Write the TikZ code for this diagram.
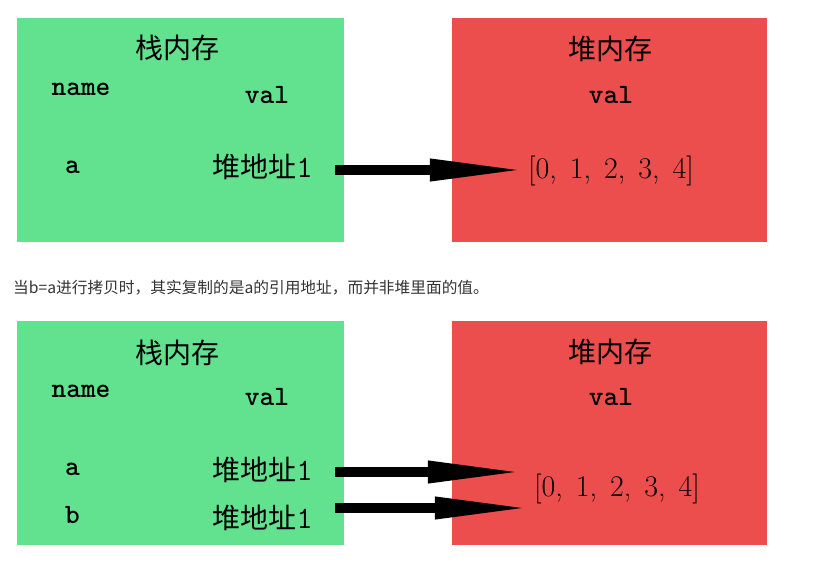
\documentclass[tikz,border=0pt]{standalone}
\usepackage{fontspec}
\newfontfamily\cjk{Noto Sans CJK SC}
\usetikzlibrary{arrows.meta, positioning}
\definecolor{stackGreen}{HTML}{62E18E}
\definecolor{heapRed}{HTML}{EC4D4D}
\definecolor{noteGray}{HTML}{333333}
\newcommand\listgap{\spaceskip=13pt\relax}

\begin{document}
\begin{tikzpicture}[x=1pt, y=-1pt,
    stackbox/.style={fill=stackGreen, minimum width=327pt, minimum height=224pt, inner sep=0pt},
    heapbox/.style={fill=heapRed, minimum width=315pt, minimum height=224pt, inner sep=0pt},
    boxtitle/.style={inner sep=0pt, font=\cjk\fontsize{28}{30}\selectfont},
    monotxt/.style={inner sep=0pt, font=\ttfamily\bfseries\fontsize{28}{30}\selectfont},
    addrtxt/.style={inner sep=0pt, font=\cjk\fontsize{28}{30}\selectfont},
    listtxt/.style={inner sep=0pt, font=\fontsize{30}{32}\selectfont\listgap},
    notetxt/.style={inner sep=0pt, text=noteGray, font=\cjk\fontsize{15.7}{18}\selectfont},
    ptr/.style={line width=10pt, -{Triangle[length=99pt, width=20pt]}}]
  \useasboundingbox (0,0) rectangle (819,562);
  % one name, one heap array
  \node[stackbox] (stackA) at (180.5,130) {};
  \node[heapbox] (heapA) at (609.5,130) {};
  \node[boxtitle] (stackTitleA) at (177.5,48) {栈内存};
  \node[monotxt] (nameA) at (81,89) {name};
  \node[monotxt] (valA) at (267,95) {val};
  \node[monotxt] (varA) at (72.5,167) {a};
  \node[addrtxt] (addrA) at (262.5,167) {堆地址{\ttfamily\fontsize{31}{32}\selectfont 1}};
  \node[boxtitle] (heapTitleA) at (610,49) {堆内存};
  \node[monotxt] (heapValA) at (611,95) {val};
  \node[listtxt] (listA) at (611,171) {[0, 1, 2, 3, 4]};
  \draw[ptr] ([xshift=-9pt, yshift=-3pt]stackA.east |- addrA) -- ([xshift=77pt, yshift=-3pt]heapA.west |- addrA);

  \node[notetxt, anchor=west] (note) at (13,288) {当b=a进行拷贝时，其实复制的是a的引用地址，而并非堆里面的值。};

  % after b=a, both point to the same array
  \node[stackbox] (stackB) at (180.5,432.5) {};
  \node[heapbox] (heapB) at (609.5,432.5) {};
  \node[boxtitle] (stackTitleB) at (177.5,353) {栈内存};
  \node[monotxt] (nameB) at (81,391) {name};
  \node[monotxt] (valB) at (267,397) {val};
  \node[monotxt] (varBa) at (72.5,469) {a};
  \node[monotxt] (varBb) at (72.5,515) {b};
  \node[addrtxt] (addrBa) at (262.5,470) {堆地址{\ttfamily\fontsize{31}{32}\selectfont 1}};
  \node[addrtxt] (addrBb) at (262.5,517.5) {堆地址{\ttfamily\fontsize{31}{32}\selectfont 1}};
  \node[boxtitle] (heapTitleB) at (610,352) {堆内存};
  \node[monotxt] (heapValB) at (611,397) {val};
  \node[listtxt] (listB) at (617,489) {[0, 1, 2, 3, 4]};
  \draw[ptr] ([xshift=-9pt, yshift=-2pt]stackB.east |- addrBa) -- ([xshift=75pt, yshift=-2pt]heapB.west |- addrBa);
  \draw[ptr] ([xshift=-9pt, yshift=9.5pt]stackB.east |- addrBb) -- ([xshift=82pt, yshift=9.5pt]heapB.west |- addrBb);
\end{tikzpicture}
\end{document}
